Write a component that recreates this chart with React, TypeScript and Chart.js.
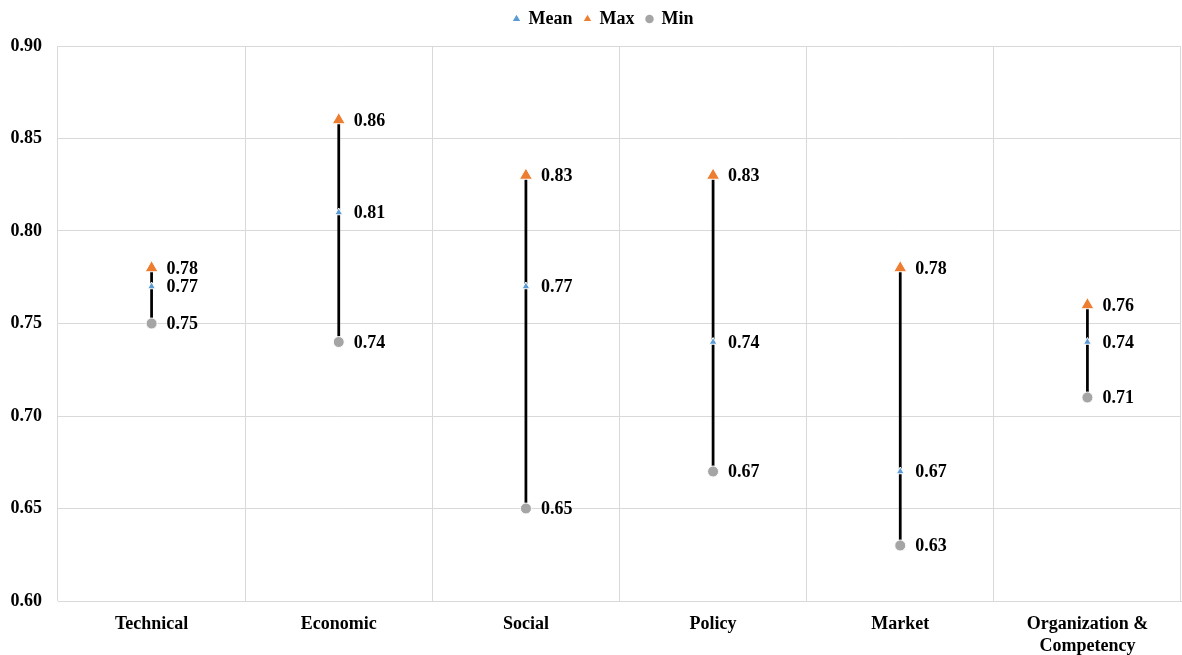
import React, { useEffect, useRef } from "react";
import { Chart, registerables } from "chart.js";

Chart.register(...registerables);

const categories: (string | string[])[] = [
  "Technical",
  "Economic",
  "Social",
  "Policy",
  "Market",
  ["Organization &", "Competency"],
];
const meanValues = [0.77, 0.81, 0.77, 0.74, 0.67, 0.74];
const maxValues = [0.78, 0.86, 0.83, 0.83, 0.78, 0.76];
const minValues = [0.75, 0.74, 0.65, 0.67, 0.63, 0.71];
const yTicks = { min: 0.6, max: 0.9, step: 0.05 };

const FONT = "'Liberation Serif', 'Times New Roman', serif";

const hiLoPlugin = {
  id: "hiLo",
  beforeDatasetsDraw(chart: any) {
    const { ctx, scales } = chart;
    const x = scales.x;
    const y = scales.y;
    ctx.save();
    ctx.strokeStyle = "#000000";
    ctx.lineWidth = 2.75;
    for (let i = 0; i < maxValues.length; i++) {
      const px = x.getPixelForValue(i);
      ctx.beginPath();
      ctx.moveTo(px, y.getPixelForValue(maxValues[i]));
      ctx.lineTo(px, y.getPixelForValue(minValues[i]));
      ctx.stroke();
    }
    ctx.restore();
  },
};

const labelPlugin = {
  id: "valLabels",
  afterDatasetsDraw(chart: any) {
    const { ctx } = chart;
    ctx.save();
    ctx.font = `bold 18px ${FONT}`;
    ctx.fillStyle = "#000000";
    ctx.textBaseline = "middle";
    ctx.textAlign = "left";
    chart.data.datasets.forEach((ds: any, di: number) => {
      const meta = chart.getDatasetMeta(di);
      meta.data.forEach((pt: any, i: number) => {
        const v = ds.data[i] as number;
        ctx.fillText(v.toFixed(2), pt.x + 15, pt.y + 1);
      });
    });
    ctx.restore();
  },
};

const legendTweak = {
  id: "legendTweak",
  beforeInit(chart: any) {
    const lg = chart.legend;
    if (!lg) return;
    const origFit = lg.fit;
    const origDraw = lg.draw;
    lg.fit = function () {
      origFit.call(lg);
      lg.height += 6;
    };
    lg.draw = function (...args: any[]) {
      const ctx = chart.ctx;
      ctx.save();
      ctx.translate(13, -2);
      origDraw.apply(lg, args);
      ctx.restore();
    };
  },
};

export default function App() {
  const ref = useRef<HTMLCanvasElement>(null);
  useEffect(() => {
    if (!ref.current) return;
    const chart = new Chart(ref.current, {
      type: "line",
      data: {
        labels: categories as any,
        datasets: [
          {
            label: "Mean",
            data: meanValues,
            showLine: false,
            pointStyle: "triangle",
            pointRadius: 4.5,
            pointBackgroundColor: "#5B9BD5",
            pointBorderColor: "#FFFFFF",
            pointBorderWidth: 1,
            backgroundColor: "#5B9BD5",
            borderColor: "#5B9BD5",
            order: 1,
          },
          {
            label: "Max",
            data: maxValues,
            showLine: false,
            pointStyle: "triangle",
            pointRadius: 7.5,
            pointBackgroundColor: "#ED7D31",
            pointBorderColor: "#FFFFFF",
            pointBorderWidth: 1,
            backgroundColor: "#ED7D31",
            borderColor: "#ED7D31",
            order: 2,
          },
          {
            label: "Min",
            data: minValues,
            showLine: false,
            pointStyle: "circle",
            pointRadius: 5.5,
            pointBackgroundColor: "#A5A5A5",
            pointBorderColor: "#FFFFFF",
            pointBorderWidth: 1,
            backgroundColor: "#A5A5A5",
            borderColor: "#A5A5A5",
            order: 3,
          },
        ],
      },
      options: {
        animation: false,
        responsive: true,
        maintainAspectRatio: false,
        layout: { autoPadding: false, padding: { left: 0, right: 1, top: 0, bottom: 0 } },
        plugins: {
          legend: {
            position: "top",
            labels: {
              usePointStyle: true,
              boxHeight: 6,
              boxWidth: 6,
              padding: 12,
              color: "#000000",
              font: { family: FONT, size: 18, weight: "bold" },
              generateLabels(chart: any) {
                return chart.data.datasets.map((ds: any, i: number) => ({
                  text: ds.label,
                  fillStyle: ds.pointBackgroundColor,
                  strokeStyle: ds.pointBackgroundColor,
                  lineWidth: 0,
                  pointStyle: ds.pointStyle,
                  hidden: false,
                  datasetIndex: i,
                  fontColor: "#000000",
                }));
              },
            },
          },
          tooltip: { enabled: false },
        },
        scales: {
          x: {
            offset: true,
            grid: { offset: true, color: "#D9D9D9", drawTicks: false },
            border: { color: "#D9D9D9" },
            afterFit(scale: any) {
              scale.paddingLeft = 0;
              scale.paddingRight = 0;
              scale.height = 54;
            },
            ticks: {
              color: "#000000",
              padding: 13,
              maxRotation: 0,
              font: { family: FONT, size: 18, weight: "bold" },
            },
          },
          y: {
            min: yTicks.min,
            max: yTicks.max,
            grid: { color: "#D9D9D9", drawTicks: false },
            border: { display: false },
            afterFit(scale: any) {
              scale.width = 58;
            },
            ticks: {
              stepSize: yTicks.step,
              color: "#000000",
              padding: 16,
              font: { family: FONT, size: 18, weight: "bold" },
              callback: (v: any) => Number(v).toFixed(2),
            },
          },
        },
      },
      plugins: [legendTweak, hiLoPlugin, labelPlugin],
    });
    return () => chart.destroy();
  }, []);
  return (
    <div style={{ position: "fixed", left: 0, top: 0, width: 1182, height: 655, background: "#fff" }}>
      <canvas ref={ref} />
    </div>
  );
}
